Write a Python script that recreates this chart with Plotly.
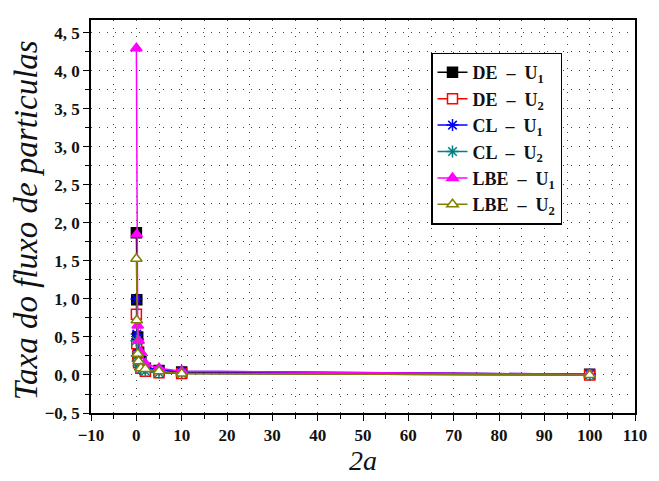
import plotly.graph_objects as go

# Particle flux rate versus 2a for the three models and two potentials
x_2a = [0.01, 0.1, 0.3, 0.5, 1, 2, 5, 10, 100]

de_u1 = [1.87, 0.99, 0.50, 0.30, 0.18, 0.09, 0.06, 0.04, 0.01]
de_u2 = [0.80, 0.41, 0.25, 0.16, 0.09, 0.05, 0.03, 0.02, 0.00]
cl_u1 = [1.00, 0.54, 0.47, 0.28, 0.16, 0.10, 0.07, 0.05, 0.01]
cl_u2 = [0.45, 0.25, 0.18, 0.12, 0.07, 0.05, 0.03, 0.02, 0.00]
lbe_u1 = [4.30, 1.85, 0.65, 0.45, 0.30, 0.15, 0.09, 0.05, 0.01]
lbe_u2 = [1.53, 0.72, 0.28, 0.18, 0.09, 0.08, 0.05, 0.02, 0.00]

series_names = [
    "DE  –  U<sub>1</sub>", "DE  –  U<sub>2</sub>",
    "CL  –  U<sub>1</sub>", "CL  –  U<sub>2</sub>",
    "LBE  –  U<sub>1</sub>", "LBE  –  U<sub>2</sub>",
]

y_ticks = [-0.5, 0.0, 0.5, 1.0, 1.5, 2.0, 2.5, 3.0, 3.5, 4.0, 4.5]
y_ticktext = [f"{v:.1f}".replace(".", ", ").replace("-", "−") for v in y_ticks]
x_ticks = list(range(-10, 111, 10))
x_ticktext = [str(v).replace("-", "−") for v in x_ticks]

styles = [
    dict(color="#000000", symbol="square", fill="#000000"),
    dict(color="#ff0000", symbol="square", fill="#ffffff"),
    dict(color="#0000ff", symbol="asterisk", fill="#0000ff"),
    dict(color="#008080", symbol="asterisk", fill="#008080"),
    dict(color="#ff00ff", symbol="triangle-up", fill="#ff00ff"),
    dict(color="#808000", symbol="triangle-up", fill="#ffffff"),
]

fig = go.Figure()
for name, ys, st in zip(series_names,
                        [de_u1, de_u2, cl_u1, cl_u2, lbe_u1, lbe_u2], styles):
    fig.add_trace(go.Scatter(
        x=x_2a, y=ys, name=name, mode="lines+markers",
        line=dict(color=st["color"], width=1.5),
        marker=dict(symbol=st["symbol"], size=10, color=st["fill"],
                    line=dict(color=st["color"], width=1.5)),
    ))

serif = "Liberation Serif"
dots = "1px,7px"
grid_color = "#444444"
axis_common = dict(
    showline=True, linecolor="#000000", linewidth=1.5, mirror=True,
    ticks="outside", ticklen=6, tickwidth=1.2, tickcolor="#000000",
    showgrid=True, gridcolor=grid_color, griddash=dots, gridwidth=1,
    zeroline=False,
    tickfont=dict(family=serif, size=17, color="#111111", weight="bold"),
)

fig.update_xaxes(
    range=[-10, 110], tickvals=x_ticks, ticktext=x_ticktext,
    minor=dict(dtick=5, tick0=0, ticks="outside", ticklen=4,
               tickcolor="#000000", showgrid=True, gridcolor=grid_color,
               griddash=dots),
    title=dict(text="2a", font=dict(family=serif, size=28, style="italic",
                                    color="#111111"), standoff=4),
    **axis_common,
)
fig.update_yaxes(
    range=[-0.5, 4.67], tickvals=y_ticks, ticktext=y_ticktext,
    minor=dict(dtick=0.25, tick0=0, ticks="outside", ticklen=4,
               tickcolor="#000000", showgrid=True, gridcolor=grid_color,
               griddash=dots),
    **axis_common,
)

# y-axis title as a rotated annotation left of the tick labels
fig.add_annotation(
    text="Taxa do fluxo de particulas", textangle=-90,
    xref="paper", yref="paper", x=-0.118, y=0.49,
    xanchor="center", yanchor="middle", showarrow=False,
    font=dict(family=serif, size=33, style="italic", color="#111111"),
)

fig.update_layout(
    width=659, height=481,
    margin=dict(l=91, r=15, t=20, b=62),
    paper_bgcolor="#ffffff", plot_bgcolor="#ffffff",
    showlegend=True,
    legend=dict(
        x=0.625, y=0.917, xanchor="left", yanchor="top",
        bgcolor="#ffffff", bordercolor="#000000", borderwidth=1.5,
        font=dict(family=serif, size=18, color="#111111", weight="bold"),
        tracegroupgap=0, itemwidth=30,
    ),
)

fig.write_html("out.html")
